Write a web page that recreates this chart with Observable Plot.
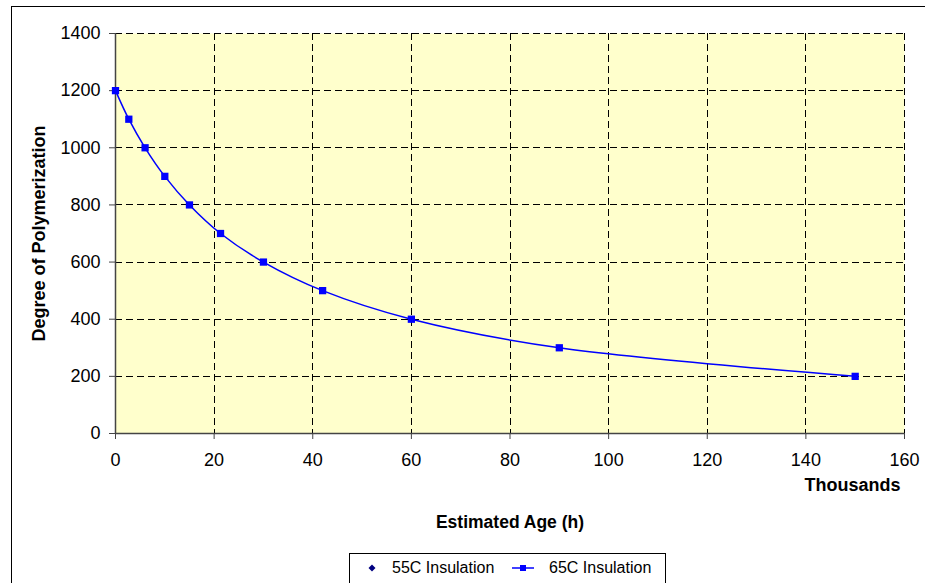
<!DOCTYPE html>
<html>
<head>
<meta charset="utf-8">
<script src="https://cdn.jsdelivr.net/npm/d3@7"></script>
<script src="https://cdn.jsdelivr.net/npm/@observablehq/plot@0.6"></script>
<style>
  html, body { margin: 0; padding: 0; background: #fff; }
  #wrap { position: relative; width: 925px; height: 583px; overflow: hidden; font-family: "Liberation Sans", Arial, sans-serif; }
  #outer { position: absolute; left: 11px; top: 6px; width: 1000px; height: 700px; border-left: 1px solid #000; border-top: 1px solid #000; pointer-events: none; }
  #legend { position: absolute; left: 349px; top: 553px; width: 315px; height: 40px; border: 1px solid #000; background: #fff; }
  #legend .item { position: absolute; top: 4px; font-size: 16px; line-height: 20px; color: #000; white-space: nowrap; }
</style>
</head>
<body>
<div id="wrap">
  <div id="chart"></div>
  <div id="outer"></div>
  <div id="legend"></div>
</div>
<script>
// Data
const ageThousands = [0, 2.7, 6, 10, 15, 21.3, 30, 42, 60, 90, 150];
const dp65C = [1200, 1100, 1000, 900, 800, 700, 600, 500, 400, 300, 200];
const seriesNames = ["55C Insulation", "65C Insulation"];
const xTicks = [0, 20, 40, 60, 80, 100, 120, 140, 160];
const yTicks = [0, 200, 400, 600, 800, 1000, 1200, 1400];
const xTitle = "Estimated Age (h)";
const xUnit = "Thousands";
const yTitle = "Degree of Polymerization";

const data = ageThousands.map((a, i) => ({age: a, dp: dp65C[i]}));

const chart = Plot.plot({
  width: 925,
  height: 583,
  marginLeft: 115,
  marginRight: 21,
  marginTop: 33,
  marginBottom: 150,
  style: {fontFamily: "Liberation Sans, Arial, sans-serif", fontSize: "18px", background: "#fff", color: "#000"},
  x: {domain: [0, 160]},
  y: {domain: [0, 1400]},
  marks: [
    Plot.frame({fill: "#FFFFCC", stroke: null}),
    Plot.gridX(xTicks.filter(t => t > 0), {stroke: "#000", strokeOpacity: 1, strokeWidth: 1, strokeDasharray: "7,4", shapeRendering: "crispEdges"}),
    Plot.gridY(yTicks.filter(t => t > 0), {stroke: "#000", strokeOpacity: 1, strokeWidth: 1, strokeDasharray: "7,4", shapeRendering: "crispEdges"}),
    Plot.ruleX([0], {stroke: "#444", strokeWidth: 1.5}),
    Plot.ruleY([0], {stroke: "#444", strokeWidth: 1.5}),
    Plot.axisX({ticks: xTicks, tickFormat: d => String(d), tickSize: 6, tickPadding: 14, label: null, stroke: "#444", fill: "#000"}),
    Plot.axisY({ticks: yTicks, tickFormat: d => String(d), tickSize: 6, tickPadding: 9, label: null, stroke: "#444", fill: "#000"}),
    Plot.line(data, {x: "age", y: "dp", stroke: "#0000FF", strokeWidth: 1.5, curve: "catmull-rom"}),
    Plot.dot(data, {x: "age", y: "dp", symbol: "square", fill: "#0000FF", stroke: null, r: 4.1}),
    Plot.text([xUnit], {frameAnchor: "bottom-right", textAnchor: "end", lineAnchor: "middle", dx: -4, dy: 51.5, fontWeight: "bold", fontSize: 18, fill: "#000"}),
    Plot.text([xTitle], {frameAnchor: "bottom", textAnchor: "middle", lineAnchor: "middle", dy: 89, fontWeight: "bold", fontSize: 17.5, fill: "#000"}),
    Plot.text([yTitle], {frameAnchor: "left", textAnchor: "middle", lineAnchor: "middle", rotate: -90, dx: -76, fontWeight: "bold", fontSize: 18, fill: "#000"})
  ]
});
document.getElementById("chart").appendChild(chart);

// Legend
const legend = document.getElementById("legend");
const item1 = document.createElement("div");
item1.className = "item";
item1.style.left = "12px";
item1.innerHTML = `<svg width="20" height="20" style="vertical-align:top"><path d="M10,6.5 L13.5,10 L10,13.5 L6.5,10 Z" fill="#000080"/></svg><span style="margin-left:10px">${seriesNames[0]}</span>`;
legend.appendChild(item1);
const item2 = document.createElement("div");
item2.className = "item";
item2.style.left = "161px";
item2.innerHTML = `<svg width="24" height="20" style="vertical-align:top"><line x1="1" x2="23" y1="10" y2="10" stroke="#0000FF" stroke-width="1.5"/><rect x="9" y="7" width="6" height="6" fill="#0000FF"/></svg><span style="margin-left:14px">${seriesNames[1]}</span>`;
legend.appendChild(item2);
</script>
</body>
</html>
